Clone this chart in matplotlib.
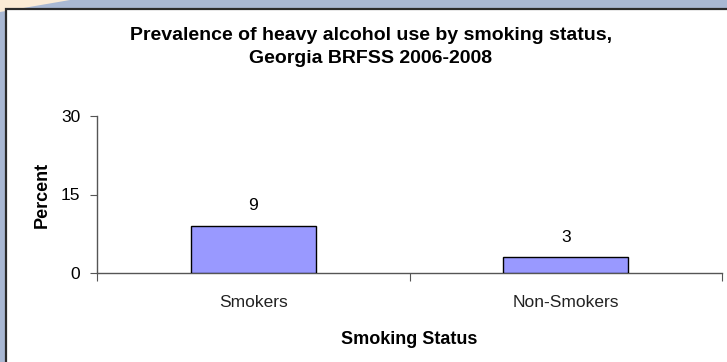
import matplotlib
matplotlib.use("Agg")
import matplotlib.pyplot as plt
from matplotlib.patches import Rectangle, Polygon

categories = ["Smokers", "Non-Smokers"]
values = [9, 3]
value_labels = ["9", "3"]
yticks = [0, 15, 30]
title = "Prevalence of heavy alcohol use by smoking status,\nGeorgia BRFSS 2006-2008"
xlabel = "Smoking Status"
ylabel = "Percent"

plt.rcParams['font.family'] = ['Liberation Sans', 'DejaVu Sans']

W, H = 727, 362
fig = plt.figure(figsize=(W / 100, H / 100), dpi=100)
fig.patch.set_facecolor('#A9B8D3')

# light corner accent
fig.patches.append(Polygon([(0, 1), (70 / W, 1), (0, 1 - 12 / H)], closed=True,
                           transform=fig.transFigure, facecolor='#FBEBD6',
                           edgecolor='none', zorder=0))
# white panel with dark border
fig.patches.append(Rectangle((5.5 / W, -0.1), 1.2, 1 - 9.5 / H + 0.1,
                             transform=fig.transFigure, facecolor='white',
                             edgecolor='#2b2b2b', linewidth=1.6, zorder=1))

ax = fig.add_axes([97 / W, 89 / H, 625 / W, 157 / H])
ax.set_facecolor('none')
ax.set_zorder(2)

x = list(range(len(categories)))
ax.bar(x, values, width=0.4, color='#9999FF', edgecolor='black', linewidth=1.0, zorder=3)
ax.set_xlim(-0.5, len(categories) - 0.5)
ax.set_ylim(0, 30)

for xi, v, lab in zip(x, values, value_labels):
    ax.annotate(lab, (xi, v), xytext=(0, 9), textcoords='offset points',
                ha='center', va='bottom', fontsize=12.5, color='black')

for s in ['top', 'right']:
    ax.spines[s].set_visible(False)
for s in ['left', 'bottom']:
    ax.spines[s].set_color('#555555')
    ax.spines[s].set_linewidth(1.0)

ax.set_yticks(yticks)
ax.set_yticklabels([str(t) for t in yticks], fontsize=12.5)
ax.tick_params(axis='y', direction='out', length=5, color='#555555', pad=7)

# category ticks between categories (and at ends)
ax.set_xticks([-0.5, 0.5, 1.5])
ax.set_xticklabels([])
ax.set_xticks(x, minor=True)
ax.set_xticklabels(categories, minor=True, fontsize=12.5, color='#222222')
ax.tick_params(axis='x', which='major', direction='out', length=6, color='#555555')
ax.tick_params(axis='x', which='minor', length=0, pad=16)

ax.set_xlabel(xlabel, fontsize=13, fontweight='bold', labelpad=15)
ax.set_ylabel(ylabel, fontsize=13, fontweight='bold', labelpad=7)

fig.text(371 / W, 1 - 47 / H, title, ha='center', va='center', fontsize=14,
         fontweight='bold', linespacing=1.5)

fig.savefig("out.png", dpi=100, facecolor=fig.get_facecolor())
